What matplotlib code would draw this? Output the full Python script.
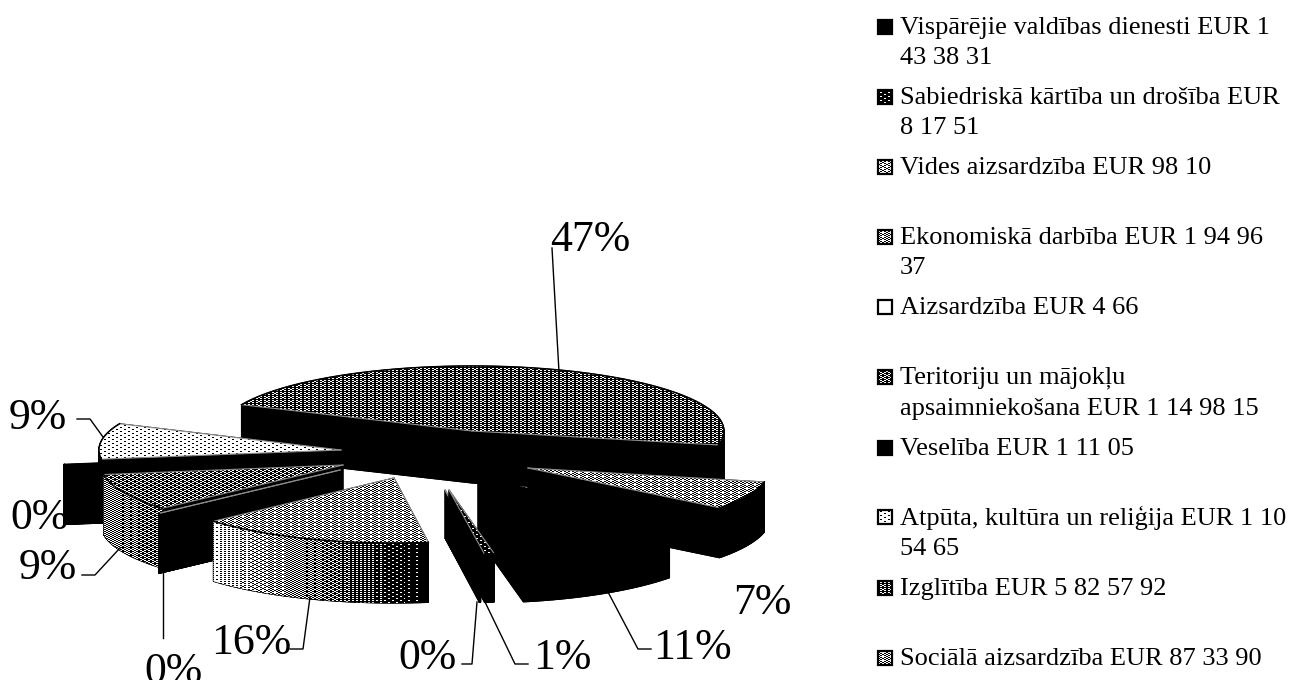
import numpy as np
import matplotlib
matplotlib.use("Agg")
import matplotlib.pyplot as plt
from matplotlib.patches import Polygon, Rectangle

# values in EUR, clockwise, same order as the legend
categories = ["Vispārējie valdības dienesti", "Sabiedriskā kārtība un drošība", "Vides aizsardzība",
              "Ekonomiskā darbība", "Aizsardzība", "Teritoriju un mājokļu apsaimniekošana",
              "Veselība", "Atpūta, kultūra un reliģija", "Izglītība", "Sociālā aizsardzība"]
values = [1433831, 81751, 9810, 1949637, 466, 1149815, 11105, 1105465, 5825792, 873390]
pct_labels = ["11%", "1%", "0%", "16%", "0%", "9%", "0%", "9%", "47%", "7%"]
legend_lines = [
    ["Vispārējie valdības dienesti EUR 1", "43 38 31"],
    ["Sabiedriskā kārtība un drošība EUR", "8 17 51"],
    ["Vides aizsardzība EUR 98 10"],
    ["Ekonomiskā darbība EUR 1 94 96", "37"],
    ["Aizsardzība EUR 4 66"],
    ["Teritoriju un mājokļu", "apsaimniekošana EUR 1 14 98 15"],
    ["Veselība EUR 1 11 05"],
    ["Atpūta, kultūra un reliģija EUR 1 10", "54 65"],
    ["Izglītība EUR 5 82 57 92"],
    ["Sociālā aizsardzība EUR 87 33 90"],
]

# layout, all in image pixels
radius_x = [242, 242, 242, 242, 242, 242, 242, 242, 252, 242]
B = 65
START = -37.7
apex = [(478, 478), (449, 490), (445, 490), (394, 478), (340, 470),
        (343, 465), (304, 455), (341, 450), (472, 431), (528, 468)]
depth = [60, 48, 48, 60, 60, 60, 60, 48, 52, 50]
top_level = [0, 0.15, 0.6, 0.55, 1, 0.38, 0, 0.85, 0.3, 0.55]
wall_level = {3: (0.8, 0.0), 5: (0.5, 0.35)}
draw_order = [8, 7, 6, 9, 5, 4, 0, 2, 1, 3]
legend_y = [[28, 58], [98, 128], [168], [238, 268], [308],
            [378, 409], [449], [518, 549], [589], [659]]
label_xy = [(692, 648), (562, 658), (428, 658), (251, 643), (173, 672),
            (48, 568), (40, 518), (38, 418), (590, 240), (762, 603)]
leaders = [
    [(651, 649), (638, 649), (608, 592)],
    [(528, 664), (515, 664), (485, 602)],
    [(462, 664), (472, 664), (477, 602)],
    [(290, 649), (303, 649), (310, 597)],
    [(163, 572), (163, 638)],
    [(82, 575), (95, 575), (120, 548)],
    [(77, 419), (90, 419), (103, 437)],
    [(552, 248), (559, 372)],
]

BAYER = np.array([[0, 8, 2, 10], [12, 4, 14, 6], [3, 11, 1, 9], [15, 7, 13, 5]]) / 16 + 1 / 32

plt.rcParams["font.family"] = ["Liberation Serif", "DejaVu Serif"]
fig = plt.figure(figsize=(12.94, 6.8), dpi=100)
ax = fig.add_axes([0, 0, 1, 1])


def dither(verts, left, right, z):
    verts = np.asarray(verts)
    x0, y0 = np.floor(verts.min(axis=0)).astype(int)
    x1, y1 = np.ceil(verts.max(axis=0)).astype(int) + 1
    X, Y = np.meshgrid(np.arange(x0, x1), np.arange(y0, y1))
    level = left + (right - left) * (X - x0) / max(x1 - x0, 1)
    im = ax.imshow(level > BAYER[Y % 4, (X // 2) % 4], cmap="gray", vmin=0, vmax=1, extent=(x0, x1, y1, y0),
                   interpolation="nearest", aspect="auto", zorder=z)
    im.set_clip_path(Polygon(verts, transform=ax.transData))


fractions = np.array(values) / sum(values)
ends = START - 360 * np.cumsum(fractions)
starts = ends + 360 * fractions

z = 1
for i in draw_order:
    t = np.radians(np.linspace(starts[i], ends[i], 60))
    cx, cy = apex[i]
    arc = np.column_stack([cx + radius_x[i] * np.cos(t), cy - B * np.sin(t)])
    top = np.vstack([[cx, cy], arc])
    d = np.array([0, depth[i]])

    # black sides of the slice
    for p, q in zip(top, np.roll(top, -1, axis=0)):
        ax.add_patch(Polygon([p, q, q + d, p + d], fc="black", ec="black", lw=0.8, zorder=z))
    ax.add_patch(Polygon(top + d, fc="black", ec="black", lw=0.8, zorder=z))
    z += 1

    if i in wall_level:
        low, high = wall_level[i]
        dither(np.vstack([arc, (arc + d)[::-1]]), low, high, z)
        z += 1

    if top_level[i] > 0:
        dither(top, top_level[i], top_level[i], z)
        ax.plot([top[0, 0], top[1, 0]], [top[0, 1], top[1, 1]], color="#8c8c8c", lw=0.8, zorder=z + 1)
        ax.plot([top[0, 0], top[-1, 0]], [top[0, 1], top[-1, 1]], color="#8c8c8c", lw=0.8, zorder=z + 1)
    ax.plot(arc[:, 0], arc[:, 1], color="black", lw=1.1, zorder=z + 1)
    z += 2

for (x, y), label in zip(label_xy, pct_labels):
    ax.text(x, y, label, fontsize=31.5, ha="center", va="center", color="black", zorder=z)
for line in leaders:
    xs, ys = zip(*line)
    ax.plot(xs, ys, color="black", lw=1, zorder=z)

# legend, spacing is uneven in the original so it is placed by hand
for i, lines in enumerate(legend_lines):
    y = legend_y[i][0]
    dither([(878, y - 8), (892, y - 8), (892, y + 6), (878, y + 6)], top_level[i], top_level[i], z)
    ax.add_patch(Rectangle((878, y - 8), 14, 14, fc="none", ec="black", lw=1.6, zorder=z + 1))
    for text, ty in zip(lines, legend_y[i]):
        ax.text(900, ty, text, fontsize=19, ha="left", va="center", color="black", zorder=z)

ax.set_xlim(0, 1294)
ax.set_ylim(680, 0)
ax.axis("off")
fig.savefig("out.png", dpi=100, facecolor="white")
